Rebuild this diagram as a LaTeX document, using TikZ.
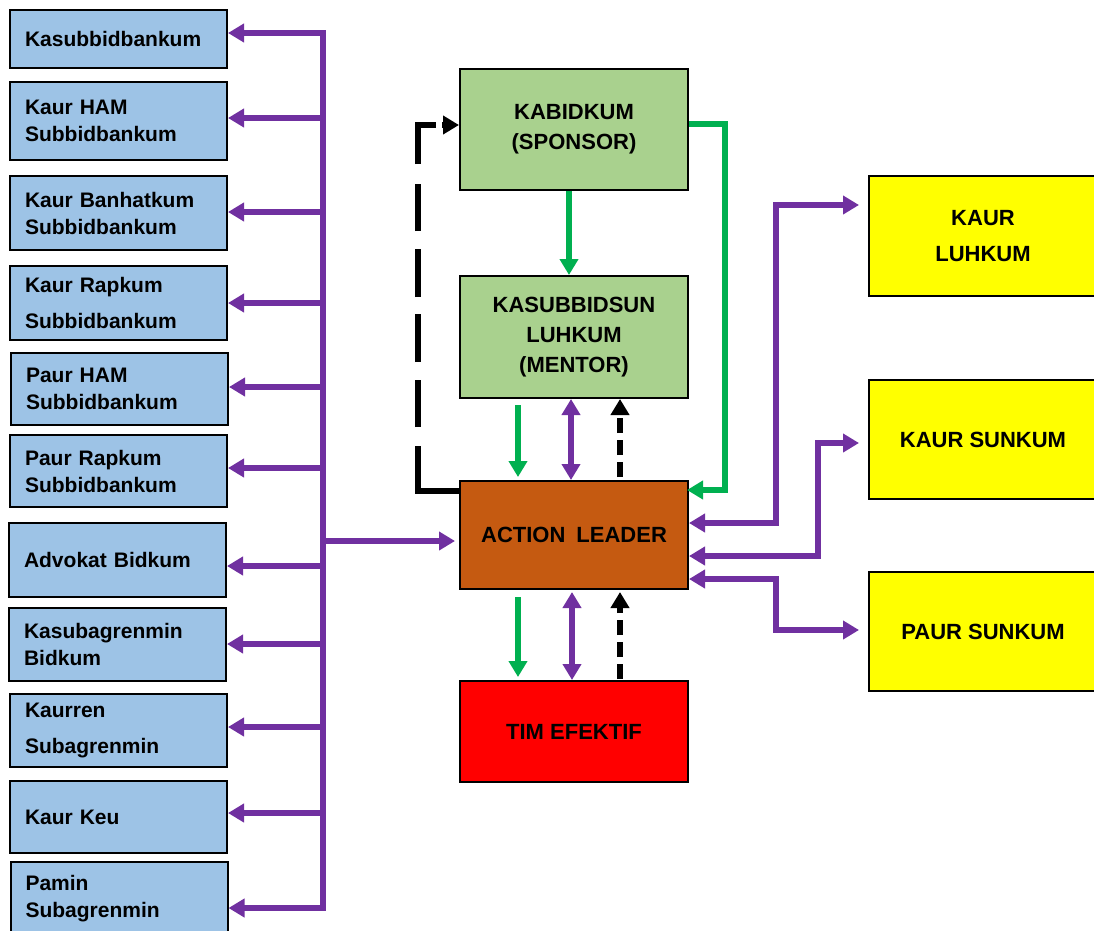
\documentclass[tikz,border=0pt]{standalone}
\usepackage{fontspec}
\setmainfont{Liberation Sans}
\usetikzlibrary{arrows.meta}
\definecolor{subc}{RGB}{157,195,230}
\definecolor{mentc}{RGB}{169,209,142}
\definecolor{leadc}{RGB}{197,90,17}
\definecolor{timc}{RGB}{255,0,0}
\definecolor{staffc}{RGB}{255,255,0}
\definecolor{coordc}{RGB}{112,48,160}
\definecolor{cmdc}{RGB}{0,176,80}

\begin{document}
\begin{tikzpicture}[x=1pt, y=-1pt, >={Triangle[length=16pt,width=18pt]}]
		\tikzstyle{unit}=[draw=black, line width=2pt, inner sep=0pt]
		\tikzstyle{sub}=[unit, fill=subc, minimum width=217pt, text width=187pt,
		align=left, font=\bfseries\fontsize{21}{27}\selectfont]
		\tikzstyle{core}=[unit, minimum width=228pt, align=center,
		font=\bfseries\fontsize{22}{30}\selectfont]
		\tikzstyle{coordlink}=[draw=coordc, line width=5.5pt]
		\tikzstyle{cmdlink}=[draw=cmdc, line width=5.5pt]
		\tikzstyle{reportlink}=[draw=black, line width=5.5pt, dash pattern=on 15pt off 7pt]
		\tikzstyle{looplink}=[draw=black, line width=5.5pt, dash pattern=on 86pt off 19pt
		on 47pt off 18pt on 48pt off 17pt on 48pt off 18pt on 47pt off 20pt on 57pt off 6pt on 40pt]

		\useasboundingbox (0,0) rectangle (1094,930);

		% Sub units
		\node[sub, minimum height=58pt](S1) at (118.5,39) {Kasubbidbankum};
		\node[sub, minimum height=78pt](S2) at (118.5,121) {Kaur HAM\\Subbidbankum};
		\node[sub, minimum height=74pt](S3) at (118.5,213) {Kaur Banhatkum\\Subbidbankum};
		\node[sub, minimum height=74pt](S4) at (118.5,303) {Kaur Rapkum\\[9pt]Subbidbankum};
		\node[sub, minimum height=72pt](S5) at (119.5,389) {Paur HAM\\Subbidbankum};
		\node[sub, minimum height=72pt](S6) at (118.5,471) {Paur Rapkum\\Subbidbankum};
		\node[sub, minimum height=74pt](S7) at (117.5,560) {Advokat Bidkum};
		\node[sub, minimum height=73pt](S8) at (117.5,644) {Kasubagrenmin\\Bidkum};
		\node[sub, minimum height=73pt](S9) at (118.5,730) {Kaurren\\[9pt]Subagrenmin};
		\node[sub, minimum height=72pt](S10) at (118.5,817) {Kaur Keu};
		\node[sub, minimum height=74pt](S11) at (119,899) {Pamin\\Subagrenmin};

		% Chain
		\node[core, fill=mentc, minimum height=121pt](KB) at (574,129.5) {KABIDKUM\\(SPONSOR)};
		\node[core, fill=mentc, minimum height=122pt](KS) at (574,337) {KASUBBIDSUN\\LUHKUM\\(MENTOR)};
		\node[core, fill=leadc, minimum height=108pt](AL) at (574,535) {ACTION\enspace LEADER};
		\node[core, fill=timc, minimum height=101pt](TE) at (574,731.5) {TIM EFEKTIF};

		% Staff
		\node[core, fill=staffc, minimum height=120pt](R1) at (983,236) {KAUR\\[6pt]LUHKUM};
		\node[core, fill=staffc, minimum height=119pt](R2) at (983,439.5) {KAUR SUNKUM};
		\node[core, fill=staffc, minimum height=119pt](R3) at (983,631.5) {PAUR SUNKUM};

		\coordinate (bus) at (323,0);
		\coordinate (busT) at (323,30.3);
		\coordinate (busB) at (323,910.7);
		\coordinate (cmdR) at (725,0);
		\coordinate (loopL) at (418,0);
		\coordinate (staffA) at (776,0);
		\coordinate (staffB) at (818,0);

		% Coordination bus
		\draw[coordlink] (busT) -- (busB);
		\foreach \i/\dy in {1/6,2/3,3/1,4/0,5/2,6/3,7/-6,8/0,9/3,10/4,11/-9}
			\draw[coordlink, ->] ([yshift=\dy pt]S\i.east -| bus) -- ([yshift=\dy pt]S\i.east);
		\draw[coordlink, ->, shorten >=4pt] ([yshift=-6pt]AL.west -| bus) -- ([yshift=-6pt]AL.west);

		% Command lines
		\draw[cmdlink, ->] ([xshift=-5pt]KB.south) -- ([xshift=-5pt]KS.north);
		\draw[cmdlink, ->, shorten >=-2pt] ([yshift=5.5pt]KB.east) -| ([yshift=45pt]AL.east -| cmdR) -- ([yshift=45pt]AL.east);
		\draw[cmdlink, ->] ([xshift=-56pt,yshift=-6pt]KS.south) -- ([xshift=-56pt,yshift=3pt]AL.north);
		\draw[cmdlink, ->] ([xshift=-56pt,yshift=-7pt]AL.south) -- ([xshift=-56pt,yshift=3pt]TE.north);

		% Two way
		\draw[coordlink, <->] ([xshift=-3pt]KS.south) -- ([xshift=-3pt]AL.north);
		\draw[coordlink, <->] ([xshift=-2pt,yshift=-2pt]AL.south) -- ([xshift=-2pt]TE.north);

		% Reports
		\draw[reportlink, ->] ([xshift=46pt,yshift=3pt]AL.north) -- ([xshift=46pt]KS.south);
		\draw[reportlink, ->] ([xshift=46pt,yshift=1pt]TE.north) -- ([xshift=46pt,yshift=-2pt]AL.south);
		\draw[looplink, ->] ([yshift=44pt]AL.west) -| ([yshift=4.5pt]KB.west -| loopL) -- ([yshift=4.5pt]KB.west);

		% Staff connections
		\draw[coordlink, <->, shorten >=9pt] ([yshift=12pt]AL.east) -| ([yshift=31pt]R1.west -| staffA) -- ([yshift=31pt]R1.west);
		\draw[coordlink, <->, shorten >=9pt] ([yshift=-21pt]AL.east) -| ([yshift=-3.5pt]R2.west -| staffB) -- ([yshift=-3.5pt]R2.west);
		\draw[coordlink, <->, shorten >=9pt] ([yshift=-44pt]AL.east) -| ([yshift=1.5pt]R3.west -| staffA) -- ([yshift=1.5pt]R3.west);
\end{tikzpicture}
\end{document}
